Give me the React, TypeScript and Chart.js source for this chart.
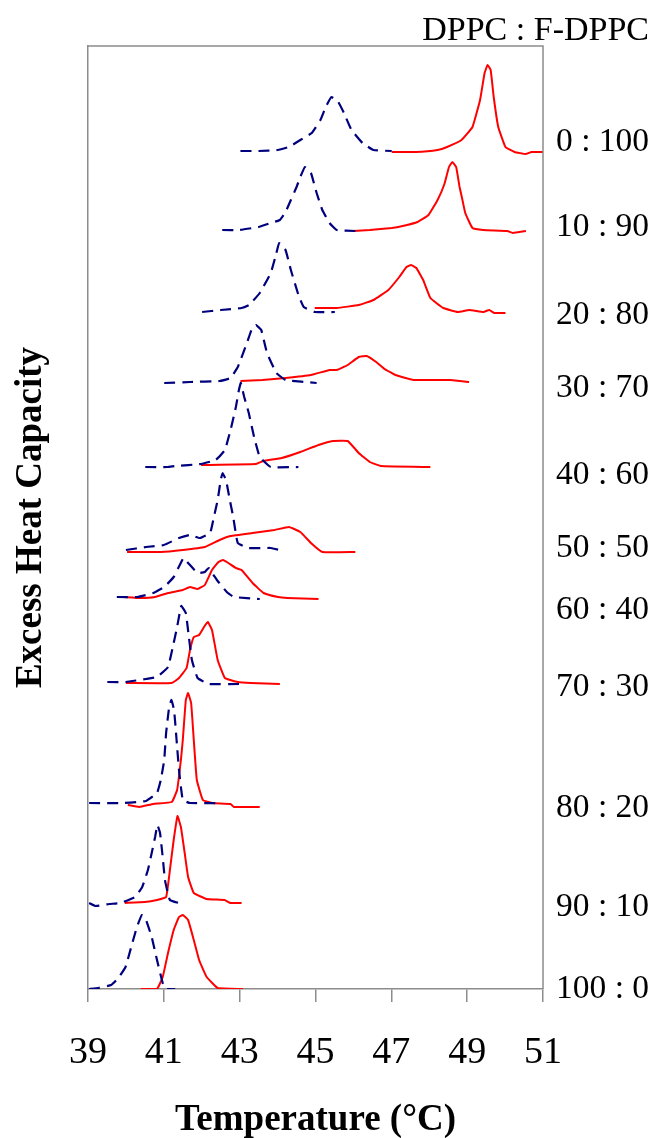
import React, { useEffect, useRef } from 'react';
import { Chart, registerables } from 'chart.js';

Chart.register(...registerables);

// ---- tick labels / categories ----
const tempTicks = [39, 41, 43, 45, 47, 49, 51];
const mixtures = ['0 : 100', '10 : 90', '20 : 80', '30 : 70', '40 : 60', '50 : 50', '60 : 40', '70 : 30', '80 : 20', '90 : 10', '100 : 0'];
// vertical level (same units as the curves) at which each mixture label sits
const mixtureLabelLevels = [847, 762, 674, 601, 514, 441, 379, 302, 181, 82, 0];

// ---- curves: [temperature °C, excess heat capacity (offset, a.u.)] ----
const dashed_0_100 = [[43.02, 838], [43.5, 838], [44.0, 839], [44.3, 842], [44.6, 849], [44.9, 856], [45.13, 869], [45.27, 882], [45.42, 892], [45.6, 887], [45.75, 876], [45.95, 859], [46.24, 846], [46.53, 839], [47.01, 838]];
const solid_0_100 = [[47.01, 837], [47.64, 837], [48.22, 839], [48.47, 842], [48.85, 849], [49.14, 862], [49.34, 889], [49.46, 916], [49.54, 924], [49.62, 919], [49.7, 892], [49.82, 862], [50.01, 842], [50.25, 837], [50.54, 835], [50.7, 837], [51.0, 837]];

const dashed_10_90 = [[42.54, 759], [43.0, 759], [43.5, 762], [43.82, 766], [44.06, 769], [44.21, 777], [44.35, 789], [44.5, 802], [44.6, 812], [44.72, 822], [44.88, 816], [45.03, 796], [45.18, 779], [45.37, 766], [45.56, 759], [46.05, 758]];
const solid_10_90 = [[46.0, 758], [46.43, 759], [47.01, 761], [47.3, 763], [47.69, 767], [47.98, 774], [48.22, 789], [48.4, 805], [48.52, 822], [48.61, 827], [48.71, 822], [48.8, 802], [48.87, 790], [48.95, 776], [49.14, 761], [49.43, 759], [50.06, 758], [50.2, 756], [50.55, 758]];

const dashed_20_80 = [[42.01, 677], [42.5, 679], [43.05, 681], [43.25, 684], [43.53, 696], [43.82, 716], [43.97, 736], [44.04, 746], [44.21, 739], [44.35, 719], [44.55, 694], [44.69, 682], [44.98, 677], [45.51, 677]];
const solid_20_80 = [[44.98, 681], [45.56, 681], [46.14, 684], [46.53, 689], [46.92, 699], [47.21, 712], [47.4, 722], [47.52, 724], [47.66, 721], [47.84, 709], [48.03, 691], [48.37, 681], [48.75, 677], [49.05, 679], [49.43, 677], [49.58, 679], [49.72, 676], [50.01, 676]];

const dashed_30_70 = [[41.01, 606], [41.69, 607], [42.47, 608], [42.76, 611], [42.95, 622], [43.19, 646], [43.34, 662], [43.43, 664], [43.57, 659], [43.72, 636], [43.97, 616], [44.21, 609], [45.03, 606]];
const solid_30_70 = [[43.02, 608], [43.6, 609], [44.21, 611], [44.88, 614], [45.37, 619], [45.56, 619], [45.85, 624], [46.14, 632], [46.35, 633], [46.6, 627], [46.82, 620], [47.01, 616], [47.11, 614], [47.59, 609], [48.56, 609], [49.05, 607]];

const dashed_40_60 = [[40.51, 522], [41.1, 522], [41.3, 523], [41.98, 525], [42.37, 529], [42.61, 539], [42.76, 559], [42.9, 582], [42.98, 599], [43.03, 606], [43.12, 592], [43.24, 576], [43.38, 552], [43.53, 532], [43.82, 522], [44.55, 522]];
const solid_40_60 = [[41.98, 524], [43.43, 525], [43.63, 528], [44.11, 531], [44.6, 537], [45.08, 544], [45.46, 548], [45.85, 548], [46.14, 536], [46.43, 527], [46.72, 523], [48.03, 522]];

const dashed_50_50 = [[40.0, 439], [40.53, 442], [41.0, 444], [41.4, 451], [41.69, 454], [41.95, 451], [42.22, 456], [42.32, 472], [42.42, 489], [42.5, 509], [42.55, 516], [42.64, 509], [42.74, 489], [42.83, 472], [42.95, 446], [43.24, 441], [43.82, 441], [44.06, 439]];
const solid_50_50 = [[40.03, 437], [40.92, 437], [41.5, 439], [42.08, 442], [42.47, 449], [42.76, 453], [43.34, 456], [43.92, 459], [44.3, 462], [44.6, 457], [44.88, 446], [45.18, 437], [46.05, 437]];

const dashed_60_40 = [[39.76, 392], [40.3, 392], [40.72, 396], [41.01, 402], [41.26, 412], [41.42, 424], [41.52, 431], [41.64, 426], [41.89, 416], [42.08, 417], [42.18, 421], [42.4, 409], [42.66, 397], [42.85, 392], [43.53, 390]];
const solid_60_40 = [[39.95, 392], [40.4, 391], [40.77, 392], [41.11, 396], [41.5, 399], [41.69, 402], [41.89, 400], [42.08, 404], [42.27, 419], [42.44, 427], [42.56, 429], [42.7, 426], [42.9, 421], [43.05, 419], [43.34, 406], [43.63, 396], [44.01, 392], [44.25, 391], [45.08, 390]];

const dashed_70_30 = [[39.51, 307], [40.0, 307], [40.53, 310], [40.82, 312], [41.11, 322], [41.26, 346], [41.35, 362], [41.46, 383], [41.58, 376], [41.66, 352], [41.74, 329], [41.89, 311], [42.18, 305], [43.05, 305]];
const solid_70_30 = [[40.0, 306], [41.21, 306], [41.4, 311], [41.6, 321], [41.69, 339], [41.79, 352], [41.93, 354], [42.06, 362], [42.16, 367], [42.27, 359], [42.42, 329], [42.61, 311], [42.95, 307], [43.3, 306], [44.06, 305]];

const dashed_80_20 = [[39.03, 186], [39.95, 186], [40.53, 188], [40.82, 196], [40.92, 209], [41.01, 229], [41.06, 256], [41.14, 282], [41.2, 289], [41.27, 279], [41.33, 252], [41.4, 219], [41.5, 189], [41.69, 186], [42.51, 186]];
const solid_80_20 = [[40.05, 184], [40.35, 182], [40.72, 185], [41.21, 187], [41.35, 199], [41.45, 229], [41.5, 249], [41.58, 289], [41.64, 296], [41.72, 286], [41.79, 249], [41.87, 209], [42.03, 189], [42.27, 186], [42.76, 185], [42.85, 182], [43.53, 182]];

const dashed_90_10 = [[39.03, 86], [39.2, 83], [39.56, 85], [39.85, 86], [40.24, 92], [40.43, 102], [40.58, 119], [40.68, 136], [40.77, 152], [40.83, 164], [40.9, 156], [40.97, 132], [41.03, 109], [41.16, 89], [41.5, 85]];
const solid_90_10 = [[39.97, 86], [40.5, 87], [40.82, 89], [41.06, 92], [41.16, 119], [41.26, 149], [41.36, 173], [41.45, 162], [41.55, 136], [41.64, 112], [41.79, 96], [42.13, 90], [42.6, 89], [42.76, 86], [43.05, 86]];

const dashed_100_0 = [[39.03, 0], [39.27, 1], [39.61, 4], [39.8, 11], [39.99, 22], [40.14, 42], [40.29, 62], [40.42, 74], [40.53, 69], [40.68, 52], [40.82, 29], [40.97, 6], [41.06, 0], [41.3, 0]];
const solid_100_0 = [[40.39, 0], [40.82, 0], [40.97, 12], [41.11, 36], [41.26, 59], [41.4, 72], [41.5, 74], [41.64, 69], [41.79, 49], [41.93, 29], [42.13, 12], [42.42, 1], [43.09, 0]];

const dashedCurves = [dashed_0_100, dashed_10_90, dashed_20_80, dashed_30_70, dashed_40_60, dashed_50_50, dashed_60_40, dashed_70_30, dashed_80_20, dashed_90_10, dashed_100_0];
const solidCurves = [solid_0_100, solid_10_90, solid_20_80, solid_30_70, solid_40_60, solid_50_50, solid_60_40, solid_70_30, solid_80_20, solid_90_10, solid_100_0];

const headerText = 'DPPC : F-DPPC';
const xTitle = 'Temperature (°C)';
const yTitle = 'Excess Heat Capacity';

const FRAME = '#8c8c8c';
const SERIF = "'Liberation Serif', 'Times New Roman', serif";

const framePlugin = {
  id: 'frameAndLabels',
  afterDraw(chart: any) {
    const { ctx, chartArea } = chart;
    const yScale = chart.scales.y;
    ctx.save();
    // top and right sides of the plot frame
    ctx.strokeStyle = FRAME;
    ctx.lineWidth = 1.5;
    ctx.beginPath();
    ctx.moveTo(chartArea.left, chartArea.top);
    ctx.lineTo(chartArea.right, chartArea.top);
    ctx.lineTo(chartArea.right, chartArea.bottom);
    ctx.stroke();
    // mixture labels on the right
    ctx.fillStyle = '#000';
    ctx.font = `33.5px ${SERIF}`;
    ctx.textAlign = 'left';
    ctx.textBaseline = 'middle';
    mixtures.forEach((label, i) => {
      ctx.fillText(label, chartArea.right + 13, yScale.getPixelForValue(mixtureLabelLevels[i]));
    });
    // header over the labels
    ctx.font = `34px ${SERIF}`;
    ctx.textAlign = 'right';
    ctx.fillText(headerText, chart.width - 3, chartArea.top - 15);
    ctx.restore();
  },
};

export default function App() {
  const ref = useRef<HTMLCanvasElement | null>(null);
  useEffect(() => {
    if (!ref.current) return;
    const datasets: any[] = [];
    dashedCurves.forEach((curve, i) => {
      datasets.push({
        label: `DPPC-rich ${mixtures[i]}`,
        data: curve.map(([x, y]) => ({ x, y })),
        borderColor: '#00007f',
        borderWidth: 2.2,
        borderDash: [11, 7],
        pointRadius: 0,
        showLine: true,
        tension: 0.1,
        fill: false,
      });
    });
    solidCurves.forEach((curve, i) => {
      datasets.push({
        label: `F-DPPC-rich ${mixtures[i]}`,
        data: curve.map(([x, y]) => ({ x, y })),
        borderColor: '#ff0000',
        borderWidth: 2,
        pointRadius: 0,
        showLine: true,
        tension: 0.1,
        fill: false,
      });
    });
    const chart = new Chart(ref.current, {
      type: 'scatter',
      data: { datasets },
      plugins: [framePlugin],
      options: {
        animation: false,
        responsive: false,
        devicePixelRatio: 1,
        layout: { padding: { left: 0, right: 109, top: 46, bottom: 0 } },
        plugins: { legend: { display: false }, tooltip: { enabled: false }, title: { display: false } },
        scales: {
          x: {
            type: 'linear',
            min: 39,
            max: 51,
            afterBuildTicks: (scale: any) => {
              scale.ticks = tempTicks.map((v) => ({ value: v }));
            },
            afterFit: (scale: any) => {
              scale.paddingLeft = 0;
              scale.paddingRight = 0;
            },
            ticks: {
              color: '#000',
              font: { family: SERIF, size: 38, lineHeight: 1 },
              padding: 32.5,
              maxRotation: 0,
              autoSkip: false,
            },
            grid: { display: true, drawOnChartArea: false, drawTicks: true, tickLength: 13, color: FRAME, lineWidth: 1.5 },
            border: { display: true, color: FRAME, width: 1.5 },
            title: {
              display: true,
              text: xTitle,
              color: '#000',
              font: { family: SERIF, size: 37, weight: 'bold', lineHeight: 1 },
              padding: { top: -3.5, bottom: -0.5 },
            },
          },
          y: {
            type: 'linear',
            min: 0,
            max: 943,
            ticks: { display: false },
            grid: { display: false },
            border: { display: true, color: FRAME, width: 1.5 },
            title: {
              display: true,
              text: yTitle,
              color: '#000',
              font: { family: SERIF, size: 37, weight: 'bold', lineHeight: 1.2 },
              padding: { top: 9, bottom: 26.6 },
            },
          },
        },
      },
    });
    return () => chart.destroy();
  }, []);
  return (
    <div style={{ position: 'absolute', left: 0, top: 0, width: 652, height: 1138, background: '#fff' }}>
      <canvas ref={ref} width={652} height={1138} style={{ width: 652, height: 1138, display: 'block' }} />
    </div>
  );
}
